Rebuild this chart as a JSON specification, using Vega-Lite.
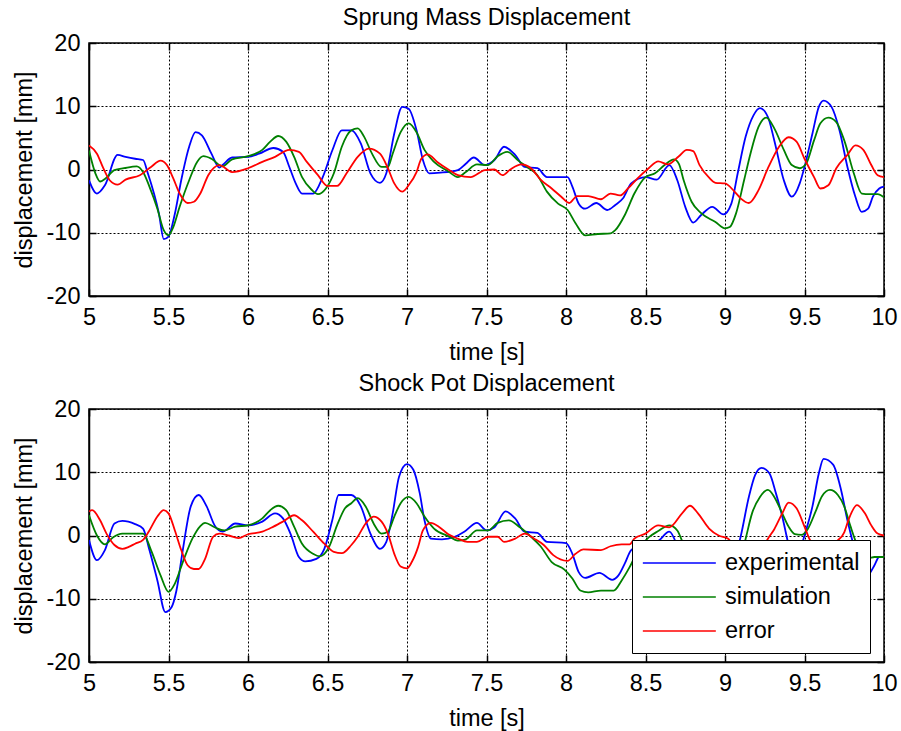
{
  "$schema": "https://vega.github.io/schema/vega-lite/v6.json",
  "padding": {"left": 11, "top": 4, "right": 5, "bottom": 5},
  "spacing": 5,
  "config": {
    "font": "Liberation Sans",
    "view": {"stroke": "black", "strokeWidth": 1.5},
    "axis": {
      "labelFont": "Liberation Sans", "labelFontSize": 23.5, "labelColor": "black",
      "titleFont": "Liberation Sans", "titleFontSize": 23.5, "titleFontWeight": "normal", "titleColor": "black",
      "domainColor": "black", "domainWidth": 1.5,
      "tickColor": "black", "tickSize": -7, "tickWidth": 1.5, "labelPadding": 16,
      "gridColor": "black", "gridDash": [2, 2], "gridOpacity": 1, "gridWidth": 1,
      "labelFlush": false, "labelOverlap": false
    },
    "title": {"font": "Liberation Sans", "fontSize": 23.5, "fontWeight": "normal", "color": "black", "offset": 2, "anchor": "middle"}
  },
  "datasets": {
    "sprung": [
      {"t":5.0,"y":-1.7,"s":"experimental"},{"t":5.05,"y":-3.8,"s":"experimental"},{"t":5.1,"y":-2.5,"s":"experimental"},{"t":5.18,"y":2.3,"s":"experimental"},{"t":5.23,"y":2.0,"s":"experimental"},{"t":5.29,"y":1.7,"s":"experimental"},{"t":5.34,"y":1.5,"s":"experimental"},{"t":5.37,"y":-0.6,"s":"experimental"},{"t":5.44,"y":-7,"s":"experimental"},{"t":5.47,"y":-11,"s":"experimental"},{"t":5.5,"y":-10.6,"s":"experimental"},{"t":5.54,"y":-7,"s":"experimental"},{"t":5.58,"y":-1.7,"s":"experimental"},{"t":5.63,"y":3.6,"s":"experimental"},{"t":5.67,"y":5.9,"s":"experimental"},{"t":5.71,"y":5.4,"s":"experimental"},{"t":5.77,"y":2.5,"s":"experimental"},{"t":5.82,"y":0.3,"s":"experimental"},{"t":5.84,"y":0.7,"s":"experimental"},{"t":5.9,"y":1.9,"s":"experimental"},{"t":6.0,"y":2.0,"s":"experimental"},{"t":6.07,"y":2.5,"s":"experimental"},{"t":6.16,"y":3.4,"s":"experimental"},{"t":6.22,"y":2.8,"s":"experimental"},{"t":6.26,"y":0.4,"s":"experimental"},{"t":6.3,"y":-2.2,"s":"experimental"},{"t":6.34,"y":-3.8,"s":"experimental"},{"t":6.41,"y":-3.8,"s":"experimental"},{"t":6.47,"y":-1.2,"s":"experimental"},{"t":6.53,"y":3.0,"s":"experimental"},{"t":6.59,"y":6.2,"s":"experimental"},{"t":6.65,"y":6.2,"s":"experimental"},{"t":6.71,"y":4.1,"s":"experimental"},{"t":6.77,"y":-0.6,"s":"experimental"},{"t":6.83,"y":-2.1,"s":"experimental"},{"t":6.87,"y":-0.6,"s":"experimental"},{"t":6.92,"y":5.7,"s":"experimental"},{"t":6.97,"y":9.9,"s":"experimental"},{"t":7.01,"y":9.6,"s":"experimental"},{"t":7.06,"y":6.2,"s":"experimental"},{"t":7.1,"y":1.5,"s":"experimental"},{"t":7.14,"y":-0.6,"s":"experimental"},{"t":7.21,"y":-0.5,"s":"experimental"},{"t":7.32,"y":-0.1,"s":"experimental"},{"t":7.37,"y":0.9,"s":"experimental"},{"t":7.42,"y":1.9,"s":"experimental"},{"t":7.49,"y":0.7,"s":"experimental"},{"t":7.55,"y":1.5,"s":"experimental"},{"t":7.61,"y":3.6,"s":"experimental"},{"t":7.68,"y":2.3,"s":"experimental"},{"t":7.74,"y":0.4,"s":"experimental"},{"t":7.82,"y":0.2,"s":"experimental"},{"t":7.88,"y":-1.2,"s":"experimental"},{"t":8.01,"y":-1.2,"s":"experimental"},{"t":8.04,"y":-2.7,"s":"experimental"},{"t":8.08,"y":-5.4,"s":"experimental"},{"t":8.12,"y":-6.2,"s":"experimental"},{"t":8.19,"y":-5.3,"s":"experimental"},{"t":8.26,"y":-6.4,"s":"experimental"},{"t":8.31,"y":-5.6,"s":"experimental"},{"t":8.36,"y":-4.5,"s":"experimental"},{"t":8.41,"y":-2.2,"s":"experimental"},{"t":8.5,"y":-1.2,"s":"experimental"},{"t":8.57,"y":-1.6,"s":"experimental"},{"t":8.65,"y":0.7,"s":"experimental"},{"t":8.7,"y":-1.7,"s":"experimental"},{"t":8.75,"y":-5.9,"s":"experimental"},{"t":8.8,"y":-8.4,"s":"experimental"},{"t":8.85,"y":-7.2,"s":"experimental"},{"t":8.92,"y":-5.9,"s":"experimental"},{"t":8.99,"y":-7.1,"s":"experimental"},{"t":9.04,"y":-5.4,"s":"experimental"},{"t":9.08,"y":-0.6,"s":"experimental"},{"t":9.13,"y":5.2,"s":"experimental"},{"t":9.18,"y":8.6,"s":"experimental"},{"t":9.22,"y":9.7,"s":"experimental"},{"t":9.27,"y":8.3,"s":"experimental"},{"t":9.31,"y":4.6,"s":"experimental"},{"t":9.37,"y":-1.7,"s":"experimental"},{"t":9.42,"y":-4.3,"s":"experimental"},{"t":9.47,"y":-2.2,"s":"experimental"},{"t":9.5,"y":0.4,"s":"experimental"},{"t":9.55,"y":5.7,"s":"experimental"},{"t":9.59,"y":9.9,"s":"experimental"},{"t":9.62,"y":10.9,"s":"experimental"},{"t":9.67,"y":9.9,"s":"experimental"},{"t":9.72,"y":6.2,"s":"experimental"},{"t":9.77,"y":0.4,"s":"experimental"},{"t":9.82,"y":-4.3,"s":"experimental"},{"t":9.86,"y":-6.7,"s":"experimental"},{"t":9.9,"y":-6.2,"s":"experimental"},{"t":9.93,"y":-4.3,"s":"experimental"},{"t":9.97,"y":-3.0,"s":"experimental"},{"t":10.0,"y":-2.7,"s":"experimental"},
      {"t":5.0,"y":3.0,"s":"simulation"},{"t":5.04,"y":-0.6,"s":"simulation"},{"t":5.07,"y":-1.9,"s":"simulation"},{"t":5.1,"y":-1.5,"s":"simulation"},{"t":5.16,"y":-0.1,"s":"simulation"},{"t":5.22,"y":0.2,"s":"simulation"},{"t":5.3,"y":0.5,"s":"simulation"},{"t":5.34,"y":-0.4,"s":"simulation"},{"t":5.38,"y":-2.7,"s":"simulation"},{"t":5.43,"y":-6.2,"s":"simulation"},{"t":5.47,"y":-9.6,"s":"simulation"},{"t":5.5,"y":-10.4,"s":"simulation"},{"t":5.53,"y":-9.1,"s":"simulation"},{"t":5.57,"y":-5.9,"s":"simulation"},{"t":5.63,"y":-1.7,"s":"simulation"},{"t":5.68,"y":1.2,"s":"simulation"},{"t":5.72,"y":2.1,"s":"simulation"},{"t":5.77,"y":1.7,"s":"simulation"},{"t":5.84,"y":0.5,"s":"simulation"},{"t":5.9,"y":1.6,"s":"simulation"},{"t":6.0,"y":2.1,"s":"simulation"},{"t":6.09,"y":3.1,"s":"simulation"},{"t":6.14,"y":4.4,"s":"simulation"},{"t":6.19,"y":5.3,"s":"simulation"},{"t":6.24,"y":4.4,"s":"simulation"},{"t":6.29,"y":2.0,"s":"simulation"},{"t":6.34,"y":-1.2,"s":"simulation"},{"t":6.4,"y":-3.2,"s":"simulation"},{"t":6.44,"y":-3.9,"s":"simulation"},{"t":6.49,"y":-3.0,"s":"simulation"},{"t":6.54,"y":-0.6,"s":"simulation"},{"t":6.59,"y":3.6,"s":"simulation"},{"t":6.65,"y":6.2,"s":"simulation"},{"t":6.69,"y":6.5,"s":"simulation"},{"t":6.73,"y":5.2,"s":"simulation"},{"t":6.78,"y":2.5,"s":"simulation"},{"t":6.84,"y":0.4,"s":"simulation"},{"t":6.88,"y":0.4,"s":"simulation"},{"t":6.91,"y":2.5,"s":"simulation"},{"t":6.96,"y":5.9,"s":"simulation"},{"t":7.01,"y":7.3,"s":"simulation"},{"t":7.06,"y":5.9,"s":"simulation"},{"t":7.11,"y":3.1,"s":"simulation"},{"t":7.17,"y":1.2,"s":"simulation"},{"t":7.26,"y":-0.3,"s":"simulation"},{"t":7.32,"y":-1.2,"s":"simulation"},{"t":7.37,"y":-0.4,"s":"simulation"},{"t":7.44,"y":0.8,"s":"simulation"},{"t":7.51,"y":0.7,"s":"simulation"},{"t":7.57,"y":2.1,"s":"simulation"},{"t":7.63,"y":2.8,"s":"simulation"},{"t":7.7,"y":1.4,"s":"simulation"},{"t":7.76,"y":0.3,"s":"simulation"},{"t":7.82,"y":-0.9,"s":"simulation"},{"t":7.88,"y":-3.5,"s":"simulation"},{"t":7.95,"y":-5.4,"s":"simulation"},{"t":8.01,"y":-6.4,"s":"simulation"},{"t":8.06,"y":-8.5,"s":"simulation"},{"t":8.12,"y":-10.4,"s":"simulation"},{"t":8.2,"y":-10.2,"s":"simulation"},{"t":8.28,"y":-10.1,"s":"simulation"},{"t":8.31,"y":-9.6,"s":"simulation"},{"t":8.37,"y":-7.2,"s":"simulation"},{"t":8.43,"y":-3.8,"s":"simulation"},{"t":8.5,"y":-1.2,"s":"simulation"},{"t":8.56,"y":-0.6,"s":"simulation"},{"t":8.62,"y":0.7,"s":"simulation"},{"t":8.68,"y":1.6,"s":"simulation"},{"t":8.71,"y":0.9,"s":"simulation"},{"t":8.74,"y":-1.7,"s":"simulation"},{"t":8.79,"y":-5.1,"s":"simulation"},{"t":8.85,"y":-6.9,"s":"simulation"},{"t":8.94,"y":-8.3,"s":"simulation"},{"t":9.0,"y":-9.3,"s":"simulation"},{"t":9.03,"y":-9.1,"s":"simulation"},{"t":9.07,"y":-6.9,"s":"simulation"},{"t":9.12,"y":-1.7,"s":"simulation"},{"t":9.16,"y":2.5,"s":"simulation"},{"t":9.21,"y":6.7,"s":"simulation"},{"t":9.26,"y":8.2,"s":"simulation"},{"t":9.31,"y":6.5,"s":"simulation"},{"t":9.37,"y":3.1,"s":"simulation"},{"t":9.42,"y":0.7,"s":"simulation"},{"t":9.47,"y":0.2,"s":"simulation"},{"t":9.51,"y":0.9,"s":"simulation"},{"t":9.56,"y":4.6,"s":"simulation"},{"t":9.6,"y":7.3,"s":"simulation"},{"t":9.65,"y":8.2,"s":"simulation"},{"t":9.7,"y":7.5,"s":"simulation"},{"t":9.75,"y":4.6,"s":"simulation"},{"t":9.81,"y":-0.6,"s":"simulation"},{"t":9.86,"y":-3.8,"s":"simulation"},{"t":9.91,"y":-3.9,"s":"simulation"},{"t":9.96,"y":-3.9,"s":"simulation"},{"t":10.0,"y":-4.4,"s":"simulation"},
      {"t":5.0,"y":3.8,"s":"error"},{"t":5.05,"y":2.5,"s":"error"},{"t":5.09,"y":0.2,"s":"error"},{"t":5.13,"y":-1.7,"s":"error"},{"t":5.18,"y":-2.4,"s":"error"},{"t":5.23,"y":-1.6,"s":"error"},{"t":5.32,"y":-0.9,"s":"error"},{"t":5.39,"y":0.4,"s":"error"},{"t":5.45,"y":1.4,"s":"error"},{"t":5.49,"y":0.7,"s":"error"},{"t":5.53,"y":-1.4,"s":"error"},{"t":5.57,"y":-3.8,"s":"error"},{"t":5.62,"y":-5.3,"s":"error"},{"t":5.66,"y":-5.1,"s":"error"},{"t":5.7,"y":-3.8,"s":"error"},{"t":5.75,"y":-0.9,"s":"error"},{"t":5.82,"y":0.7,"s":"error"},{"t":5.9,"y":-0.4,"s":"error"},{"t":6.0,"y":0.2,"s":"error"},{"t":6.09,"y":1.2,"s":"error"},{"t":6.17,"y":2.0,"s":"error"},{"t":6.26,"y":3.1,"s":"error"},{"t":6.32,"y":2.8,"s":"error"},{"t":6.37,"y":1.2,"s":"error"},{"t":6.44,"y":-0.9,"s":"error"},{"t":6.5,"y":-2.6,"s":"error"},{"t":6.56,"y":-2.6,"s":"error"},{"t":6.62,"y":-0.6,"s":"error"},{"t":6.69,"y":2.0,"s":"error"},{"t":6.76,"y":3.3,"s":"error"},{"t":6.83,"y":2.5,"s":"error"},{"t":6.88,"y":0.2,"s":"error"},{"t":6.92,"y":-2.2,"s":"error"},{"t":6.97,"y":-3.5,"s":"error"},{"t":7.01,"y":-2.5,"s":"error"},{"t":7.06,"y":-0.4,"s":"error"},{"t":7.09,"y":1.7,"s":"error"},{"t":7.13,"y":2.4,"s":"error"},{"t":7.19,"y":1.2,"s":"error"},{"t":7.26,"y":0.0,"s":"error"},{"t":7.32,"y":-0.9,"s":"error"},{"t":7.4,"y":-1.2,"s":"error"},{"t":7.49,"y":-0.1,"s":"error"},{"t":7.55,"y":0.0,"s":"error"},{"t":7.6,"y":-0.9,"s":"error"},{"t":7.65,"y":0.0,"s":"error"},{"t":7.72,"y":0.8,"s":"error"},{"t":7.78,"y":0.2,"s":"error"},{"t":7.84,"y":-1.6,"s":"error"},{"t":7.91,"y":-3.0,"s":"error"},{"t":7.97,"y":-4.3,"s":"error"},{"t":8.02,"y":-5.3,"s":"error"},{"t":8.07,"y":-4.2,"s":"error"},{"t":8.14,"y":-4.2,"s":"error"},{"t":8.22,"y":-4.7,"s":"error"},{"t":8.28,"y":-3.8,"s":"error"},{"t":8.34,"y":-4.1,"s":"error"},{"t":8.39,"y":-3.0,"s":"error"},{"t":8.45,"y":-1.4,"s":"error"},{"t":8.52,"y":0.2,"s":"error"},{"t":8.58,"y":1.3,"s":"error"},{"t":8.64,"y":0.8,"s":"error"},{"t":8.71,"y":2.1,"s":"error"},{"t":8.76,"y":3.1,"s":"error"},{"t":8.8,"y":2.9,"s":"error"},{"t":8.84,"y":0.7,"s":"error"},{"t":8.9,"y":-1.3,"s":"error"},{"t":8.94,"y":-2.1,"s":"error"},{"t":9.0,"y":-2.2,"s":"error"},{"t":9.06,"y":-3.5,"s":"error"},{"t":9.1,"y":-4.6,"s":"error"},{"t":9.15,"y":-5.3,"s":"error"},{"t":9.21,"y":-3.3,"s":"error"},{"t":9.27,"y":0.2,"s":"error"},{"t":9.34,"y":3.6,"s":"error"},{"t":9.4,"y":5.1,"s":"error"},{"t":9.45,"y":4.4,"s":"error"},{"t":9.5,"y":1.7,"s":"error"},{"t":9.56,"y":-1.2,"s":"error"},{"t":9.6,"y":-3.0,"s":"error"},{"t":9.65,"y":-2.5,"s":"error"},{"t":9.7,"y":0.2,"s":"error"},{"t":9.77,"y":2.3,"s":"error"},{"t":9.82,"y":3.8,"s":"error"},{"t":9.87,"y":3.1,"s":"error"},{"t":9.92,"y":0.7,"s":"error"},{"t":9.96,"y":-0.9,"s":"error"},{"t":10.0,"y":-1.2,"s":"error"}
    ],
    "shock": [
      {"t":5.0,"y":-0.7,"s":"experimental"},{"t":5.05,"y":-3.9,"s":"experimental"},{"t":5.1,"y":-2.3,"s":"experimental"},{"t":5.16,"y":1.9,"s":"experimental"},{"t":5.21,"y":2.3,"s":"experimental"},{"t":5.29,"y":1.8,"s":"experimental"},{"t":5.34,"y":1.1,"s":"experimental"},{"t":5.38,"y":-2.3,"s":"experimental"},{"t":5.43,"y":-7.1,"s":"experimental"},{"t":5.48,"y":-12.1,"s":"experimental"},{"t":5.52,"y":-11.3,"s":"experimental"},{"t":5.55,"y":-8.7,"s":"experimental"},{"t":5.59,"y":-2.3,"s":"experimental"},{"t":5.64,"y":4.6,"s":"experimental"},{"t":5.69,"y":6.4,"s":"experimental"},{"t":5.74,"y":4.6,"s":"experimental"},{"t":5.79,"y":1.6,"s":"experimental"},{"t":5.84,"y":0.6,"s":"experimental"},{"t":5.92,"y":1.9,"s":"experimental"},{"t":6.0,"y":1.6,"s":"experimental"},{"t":6.09,"y":2.2,"s":"experimental"},{"t":6.17,"y":3.5,"s":"experimental"},{"t":6.22,"y":2.7,"s":"experimental"},{"t":6.27,"y":0.1,"s":"experimental"},{"t":6.32,"y":-3.4,"s":"experimental"},{"t":6.36,"y":-4.1,"s":"experimental"},{"t":6.43,"y":-3.7,"s":"experimental"},{"t":6.48,"y":-2.1,"s":"experimental"},{"t":6.53,"y":2.4,"s":"experimental"},{"t":6.57,"y":6.4,"s":"experimental"},{"t":6.65,"y":6.4,"s":"experimental"},{"t":6.71,"y":4.6,"s":"experimental"},{"t":6.77,"y":0.3,"s":"experimental"},{"t":6.83,"y":-2.1,"s":"experimental"},{"t":6.87,"y":-1.0,"s":"experimental"},{"t":6.91,"y":3.5,"s":"experimental"},{"t":6.95,"y":9.3,"s":"experimental"},{"t":7.0,"y":11.3,"s":"experimental"},{"t":7.04,"y":10.4,"s":"experimental"},{"t":7.08,"y":6.7,"s":"experimental"},{"t":7.11,"y":2.4,"s":"experimental"},{"t":7.15,"y":-0.5,"s":"experimental"},{"t":7.22,"y":-0.6,"s":"experimental"},{"t":7.3,"y":-0.2,"s":"experimental"},{"t":7.36,"y":0.6,"s":"experimental"},{"t":7.44,"y":2.0,"s":"experimental"},{"t":7.5,"y":0.8,"s":"experimental"},{"t":7.55,"y":1.3,"s":"experimental"},{"t":7.62,"y":3.8,"s":"experimental"},{"t":7.68,"y":2.7,"s":"experimental"},{"t":7.74,"y":0.6,"s":"experimental"},{"t":7.82,"y":0.4,"s":"experimental"},{"t":7.88,"y":-1.0,"s":"experimental"},{"t":8.0,"y":-1.2,"s":"experimental"},{"t":8.04,"y":-2.9,"s":"experimental"},{"t":8.08,"y":-5.8,"s":"experimental"},{"t":8.12,"y":-6.7,"s":"experimental"},{"t":8.21,"y":-5.9,"s":"experimental"},{"t":8.29,"y":-7.0,"s":"experimental"},{"t":8.33,"y":-6.3,"s":"experimental"},{"t":8.37,"y":-4.4,"s":"experimental"},{"t":8.41,"y":-2.3,"s":"experimental"},{"t":8.5,"y":-1.2,"s":"experimental"},{"t":8.57,"y":-1.0,"s":"experimental"},{"t":8.65,"y":0.6,"s":"experimental"},{"t":8.7,"y":-1.7,"s":"experimental"},{"t":8.75,"y":-5.9,"s":"experimental"},{"t":8.8,"y":-8.4,"s":"experimental"},{"t":8.85,"y":-7.2,"s":"experimental"},{"t":8.92,"y":-5.9,"s":"experimental"},{"t":8.99,"y":-7.1,"s":"experimental"},{"t":9.04,"y":-5.4,"s":"experimental"},{"t":9.1,"y":0.0,"s":"experimental"},{"t":9.15,"y":6.1,"s":"experimental"},{"t":9.19,"y":9.6,"s":"experimental"},{"t":9.23,"y":10.7,"s":"experimental"},{"t":9.28,"y":9.8,"s":"experimental"},{"t":9.32,"y":6.7,"s":"experimental"},{"t":9.36,"y":3.0,"s":"experimental"},{"t":9.4,"y":-1.5,"s":"experimental"},{"t":9.43,"y":-4.3,"s":"experimental"},{"t":9.47,"y":-2.5,"s":"experimental"},{"t":9.5,"y":0.0,"s":"experimental"},{"t":9.55,"y":4.6,"s":"experimental"},{"t":9.59,"y":9.8,"s":"experimental"},{"t":9.62,"y":12.1,"s":"experimental"},{"t":9.68,"y":11.2,"s":"experimental"},{"t":9.73,"y":7.2,"s":"experimental"},{"t":9.77,"y":2.4,"s":"experimental"},{"t":9.8,"y":-0.7,"s":"experimental"},{"t":9.84,"y":-5.0,"s":"experimental"},{"t":9.88,"y":-6.5,"s":"experimental"},{"t":9.91,"y":-6.0,"s":"experimental"},{"t":9.94,"y":-4.7,"s":"experimental"},{"t":9.97,"y":-3.4,"s":"experimental"},{"t":10.0,"y":-3.4,"s":"experimental"},
      {"t":5.0,"y":3.2,"s":"simulation"},{"t":5.05,"y":0.0,"s":"simulation"},{"t":5.1,"y":-1.4,"s":"simulation"},{"t":5.15,"y":-0.3,"s":"simulation"},{"t":5.21,"y":0.3,"s":"simulation"},{"t":5.34,"y":0.3,"s":"simulation"},{"t":5.39,"y":-2.3,"s":"simulation"},{"t":5.45,"y":-6.3,"s":"simulation"},{"t":5.5,"y":-8.9,"s":"simulation"},{"t":5.54,"y":-7.6,"s":"simulation"},{"t":5.59,"y":-4.2,"s":"simulation"},{"t":5.65,"y":-0.5,"s":"simulation"},{"t":5.7,"y":1.5,"s":"simulation"},{"t":5.73,"y":2.0,"s":"simulation"},{"t":5.79,"y":1.3,"s":"simulation"},{"t":5.85,"y":0.8,"s":"simulation"},{"t":5.92,"y":1.4,"s":"simulation"},{"t":6.0,"y":1.6,"s":"simulation"},{"t":6.09,"y":2.7,"s":"simulation"},{"t":6.14,"y":4.0,"s":"simulation"},{"t":6.19,"y":4.7,"s":"simulation"},{"t":6.24,"y":4.0,"s":"simulation"},{"t":6.29,"y":1.4,"s":"simulation"},{"t":6.34,"y":-1.3,"s":"simulation"},{"t":6.41,"y":-2.9,"s":"simulation"},{"t":6.45,"y":-3.3,"s":"simulation"},{"t":6.51,"y":-1.8,"s":"simulation"},{"t":6.56,"y":1.6,"s":"simulation"},{"t":6.61,"y":4.3,"s":"simulation"},{"t":6.65,"y":5.1,"s":"simulation"},{"t":6.69,"y":5.9,"s":"simulation"},{"t":6.74,"y":4.6,"s":"simulation"},{"t":6.79,"y":1.9,"s":"simulation"},{"t":6.84,"y":0.3,"s":"simulation"},{"t":6.88,"y":0.6,"s":"simulation"},{"t":6.92,"y":3.0,"s":"simulation"},{"t":6.96,"y":5.1,"s":"simulation"},{"t":7.01,"y":6.1,"s":"simulation"},{"t":7.06,"y":5.1,"s":"simulation"},{"t":7.11,"y":3.0,"s":"simulation"},{"t":7.17,"y":1.1,"s":"simulation"},{"t":7.26,"y":-0.1,"s":"simulation"},{"t":7.32,"y":-0.8,"s":"simulation"},{"t":7.37,"y":-0.6,"s":"simulation"},{"t":7.44,"y":0.8,"s":"simulation"},{"t":7.51,"y":0.8,"s":"simulation"},{"t":7.57,"y":2.0,"s":"simulation"},{"t":7.64,"y":2.4,"s":"simulation"},{"t":7.71,"y":1.3,"s":"simulation"},{"t":7.78,"y":-0.2,"s":"simulation"},{"t":7.84,"y":-1.7,"s":"simulation"},{"t":7.91,"y":-4.2,"s":"simulation"},{"t":7.99,"y":-5.4,"s":"simulation"},{"t":8.04,"y":-6.8,"s":"simulation"},{"t":8.09,"y":-8.7,"s":"simulation"},{"t":8.14,"y":-9.0,"s":"simulation"},{"t":8.22,"y":-8.7,"s":"simulation"},{"t":8.3,"y":-8.7,"s":"simulation"},{"t":8.35,"y":-7.1,"s":"simulation"},{"t":8.4,"y":-5.0,"s":"simulation"},{"t":8.46,"y":-2.0,"s":"simulation"},{"t":8.52,"y":-0.3,"s":"simulation"},{"t":8.58,"y":0.7,"s":"simulation"},{"t":8.65,"y":1.6,"s":"simulation"},{"t":8.7,"y":0.8,"s":"simulation"},{"t":8.74,"y":-1.5,"s":"simulation"},{"t":8.79,"y":-4.5,"s":"simulation"},{"t":8.85,"y":-6.2,"s":"simulation"},{"t":8.94,"y":-7.5,"s":"simulation"},{"t":9.0,"y":-8.3,"s":"simulation"},{"t":9.04,"y":-8.0,"s":"simulation"},{"t":9.08,"y":-5.5,"s":"simulation"},{"t":9.13,"y":-0.5,"s":"simulation"},{"t":9.17,"y":3.5,"s":"simulation"},{"t":9.22,"y":6.1,"s":"simulation"},{"t":9.27,"y":7.2,"s":"simulation"},{"t":9.31,"y":6.1,"s":"simulation"},{"t":9.36,"y":3.5,"s":"simulation"},{"t":9.4,"y":1.4,"s":"simulation"},{"t":9.44,"y":0.2,"s":"simulation"},{"t":9.48,"y":0.1,"s":"simulation"},{"t":9.52,"y":1.0,"s":"simulation"},{"t":9.57,"y":3.8,"s":"simulation"},{"t":9.61,"y":6.2,"s":"simulation"},{"t":9.66,"y":7.2,"s":"simulation"},{"t":9.71,"y":6.4,"s":"simulation"},{"t":9.75,"y":4.6,"s":"simulation"},{"t":9.79,"y":1.4,"s":"simulation"},{"t":9.82,"y":-0.8,"s":"simulation"},{"t":9.86,"y":-3.0,"s":"simulation"},{"t":9.9,"y":-3.6,"s":"simulation"},{"t":9.94,"y":-3.4,"s":"simulation"},{"t":10.0,"y":-3.4,"s":"simulation"},
      {"t":5.0,"y":3.8,"s":"error"},{"t":5.02,"y":4.0,"s":"error"},{"t":5.07,"y":2.4,"s":"error"},{"t":5.11,"y":0.3,"s":"error"},{"t":5.16,"y":-1.5,"s":"error"},{"t":5.21,"y":-2.1,"s":"error"},{"t":5.25,"y":-1.8,"s":"error"},{"t":5.29,"y":-1.3,"s":"error"},{"t":5.34,"y":-0.7,"s":"error"},{"t":5.38,"y":0.8,"s":"error"},{"t":5.43,"y":3.0,"s":"error"},{"t":5.47,"y":4.0,"s":"error"},{"t":5.5,"y":3.5,"s":"error"},{"t":5.54,"y":0.8,"s":"error"},{"t":5.58,"y":-2.3,"s":"error"},{"t":5.62,"y":-4.7,"s":"error"},{"t":5.66,"y":-5.3,"s":"error"},{"t":5.69,"y":-5.3,"s":"error"},{"t":5.73,"y":-3.7,"s":"error"},{"t":5.78,"y":-0.2,"s":"error"},{"t":5.82,"y":0.3,"s":"error"},{"t":5.88,"y":0.0,"s":"error"},{"t":5.94,"y":-0.4,"s":"error"},{"t":6.0,"y":0.2,"s":"error"},{"t":6.09,"y":0.6,"s":"error"},{"t":6.16,"y":1.4,"s":"error"},{"t":6.22,"y":2.2,"s":"error"},{"t":6.29,"y":3.2,"s":"error"},{"t":6.34,"y":2.4,"s":"error"},{"t":6.41,"y":0.6,"s":"error"},{"t":6.48,"y":-1.3,"s":"error"},{"t":6.54,"y":-2.6,"s":"error"},{"t":6.59,"y":-2.8,"s":"error"},{"t":6.65,"y":-1.5,"s":"error"},{"t":6.69,"y":-0.2,"s":"error"},{"t":6.74,"y":1.9,"s":"error"},{"t":6.79,"y":3.0,"s":"error"},{"t":6.84,"y":2.2,"s":"error"},{"t":6.88,"y":0.3,"s":"error"},{"t":6.92,"y":-2.9,"s":"error"},{"t":6.96,"y":-4.9,"s":"error"},{"t":7.0,"y":-5.2,"s":"error"},{"t":7.03,"y":-4.2,"s":"error"},{"t":7.07,"y":-1.8,"s":"error"},{"t":7.1,"y":0.8,"s":"error"},{"t":7.15,"y":2.0,"s":"error"},{"t":7.2,"y":1.4,"s":"error"},{"t":7.26,"y":0.2,"s":"error"},{"t":7.32,"y":-0.5,"s":"error"},{"t":7.38,"y":-1.0,"s":"error"},{"t":7.44,"y":-1.0,"s":"error"},{"t":7.51,"y":-0.2,"s":"error"},{"t":7.57,"y":-0.2,"s":"error"},{"t":7.61,"y":-1.0,"s":"error"},{"t":7.68,"y":-0.5,"s":"error"},{"t":7.74,"y":0.3,"s":"error"},{"t":7.8,"y":-0.5,"s":"error"},{"t":7.86,"y":-1.5,"s":"error"},{"t":7.92,"y":-3.1,"s":"error"},{"t":8.01,"y":-4.0,"s":"error"},{"t":8.06,"y":-2.9,"s":"error"},{"t":8.11,"y":-2.2,"s":"error"},{"t":8.22,"y":-2.3,"s":"error"},{"t":8.28,"y":-1.7,"s":"error"},{"t":8.35,"y":-1.4,"s":"error"},{"t":8.4,"y":-1.4,"s":"error"},{"t":8.43,"y":-0.5,"s":"error"},{"t":8.5,"y":0.3,"s":"error"},{"t":8.58,"y":1.6,"s":"error"},{"t":8.65,"y":1.3,"s":"error"},{"t":8.73,"y":3.5,"s":"error"},{"t":8.78,"y":4.7,"s":"error"},{"t":8.83,"y":3.5,"s":"error"},{"t":8.9,"y":1.1,"s":"error"},{"t":8.96,"y":0.0,"s":"error"},{"t":9.02,"y":-0.5,"s":"error"},{"t":9.06,"y":-2.0,"s":"error"},{"t":9.1,"y":-3.5,"s":"error"},{"t":9.15,"y":-4.5,"s":"error"},{"t":9.21,"y":-3.0,"s":"error"},{"t":9.27,"y":-0.5,"s":"error"},{"t":9.31,"y":1.0,"s":"error"},{"t":9.36,"y":3.5,"s":"error"},{"t":9.4,"y":5.2,"s":"error"},{"t":9.45,"y":4.3,"s":"error"},{"t":9.5,"y":1.4,"s":"error"},{"t":9.53,"y":-0.5,"s":"error"},{"t":9.56,"y":-1.8,"s":"error"},{"t":9.6,"y":-3.0,"s":"error"},{"t":9.65,"y":-2.5,"s":"error"},{"t":9.7,"y":-1.0,"s":"error"},{"t":9.75,"y":0.5,"s":"error"},{"t":9.78,"y":2.7,"s":"error"},{"t":9.83,"y":4.8,"s":"error"},{"t":9.88,"y":3.5,"s":"error"},{"t":9.92,"y":1.6,"s":"error"},{"t":9.96,"y":0.3,"s":"error"},{"t":10.0,"y":0.0,"s":"error"}
    ]
  },
  "vconcat": [
    {
      "title": "Sprung Mass Displacement",
      "width": 795, "height": 253,
      "data": {"name": "sprung"},
      "layer": [
        {
          "mark": {"type": "line", "strokeWidth": 1.8, "clip": true, "interpolate": "monotone"},
          "encoding": {
            "x": {"field": "t", "type": "quantitative", "scale": {"domain": [5, 10], "nice": false, "zero": false},
                  "axis": {"title": "time [s]", "values": [5, 5.5, 6, 6.5, 7, 7.5, 8, 8.5, 9, 9.5, 10], "format": "~g", "titlePadding": 12}},
            "y": {"field": "y", "type": "quantitative", "scale": {"domain": [-20, 20], "nice": false},
                  "axis": {"title": "displacement [mm]", "values": [-20, -10, 0, 10, 20], "labelExpr": "'' + datum.value", "titlePadding": 10}},
            "color": {"field": "s", "type": "nominal", "scale": {"domain": ["experimental", "simulation", "error"], "range": ["#0000ff", "#008000", "#ff0000"]}, "legend": null}
          }
        },
        {
          "mark": {"type": "line", "opacity": 0, "clip": true},
          "encoding": {
            "x": {"field": "t", "type": "quantitative", "scale": {"domain": [5, 10], "nice": false, "zero": false},
                  "axis": {"orient": "top", "title": null, "labels": false, "grid": false, "domain": false, "values": [5, 5.5, 6, 6.5, 7, 7.5, 8, 8.5, 9, 9.5, 10]}},
            "y": {"field": "y", "type": "quantitative", "scale": {"domain": [-20, 20], "nice": false},
                  "axis": {"orient": "right", "title": null, "labels": false, "grid": false, "domain": false, "values": [-20, -10, 0, 10, 20]}},
            "detail": {"field": "s", "type": "nominal"}
          }
        }
      ],
      "resolve": {"axis": {"x": "independent", "y": "independent"}}
    },
    {
      "title": "Shock Pot Displacement",
      "width": 795, "height": 253,
      "data": {"name": "shock"},
      "layer": [
        {
          "mark": {"type": "line", "strokeWidth": 1.8, "clip": true, "interpolate": "monotone"},
          "encoding": {
            "x": {"field": "t", "type": "quantitative", "scale": {"domain": [5, 10], "nice": false, "zero": false},
                  "axis": {"title": "time [s]", "values": [5, 5.5, 6, 6.5, 7, 7.5, 8, 8.5, 9, 9.5, 10], "format": "~g", "titlePadding": 12}},
            "y": {"field": "y", "type": "quantitative", "scale": {"domain": [-20, 20], "nice": false},
                  "axis": {"title": "displacement [mm]", "values": [-20, -10, 0, 10, 20], "labelExpr": "'' + datum.value", "titlePadding": 10}},
            "color": {"field": "s", "type": "nominal", "scale": {"domain": ["experimental", "simulation", "error"], "range": ["#0000ff", "#008000", "#ff0000"]},
                      "legend": {"orient": "none", "legendX": 543, "legendY": 131, "title": null, "symbolType": "M-1,0H5", "symbolSize": 592, "symbolStrokeWidth": 1.5,
                                 "labelFontSize": 23.5, "labelFont": "Liberation Sans", "labelColor": "black", "labelOffset": 57,
                                 "strokeColor": "black", "fillColor": "white", "padding": 10, "rowPadding": 9}}
          }
        },
        {
          "mark": {"type": "line", "opacity": 0, "clip": true},
          "encoding": {
            "x": {"field": "t", "type": "quantitative", "scale": {"domain": [5, 10], "nice": false, "zero": false},
                  "axis": {"orient": "top", "title": null, "labels": false, "grid": false, "domain": false, "values": [5, 5.5, 6, 6.5, 7, 7.5, 8, 8.5, 9, 9.5, 10]}},
            "y": {"field": "y", "type": "quantitative", "scale": {"domain": [-20, 20], "nice": false},
                  "axis": {"orient": "right", "title": null, "labels": false, "grid": false, "domain": false, "values": [-20, -10, 0, 10, 20]}},
            "detail": {"field": "s", "type": "nominal"}
          }
        }
      ],
      "resolve": {"axis": {"x": "independent", "y": "independent"}}
    }
  ],
  "resolve": {"scale": {"color": "independent"}}
}
